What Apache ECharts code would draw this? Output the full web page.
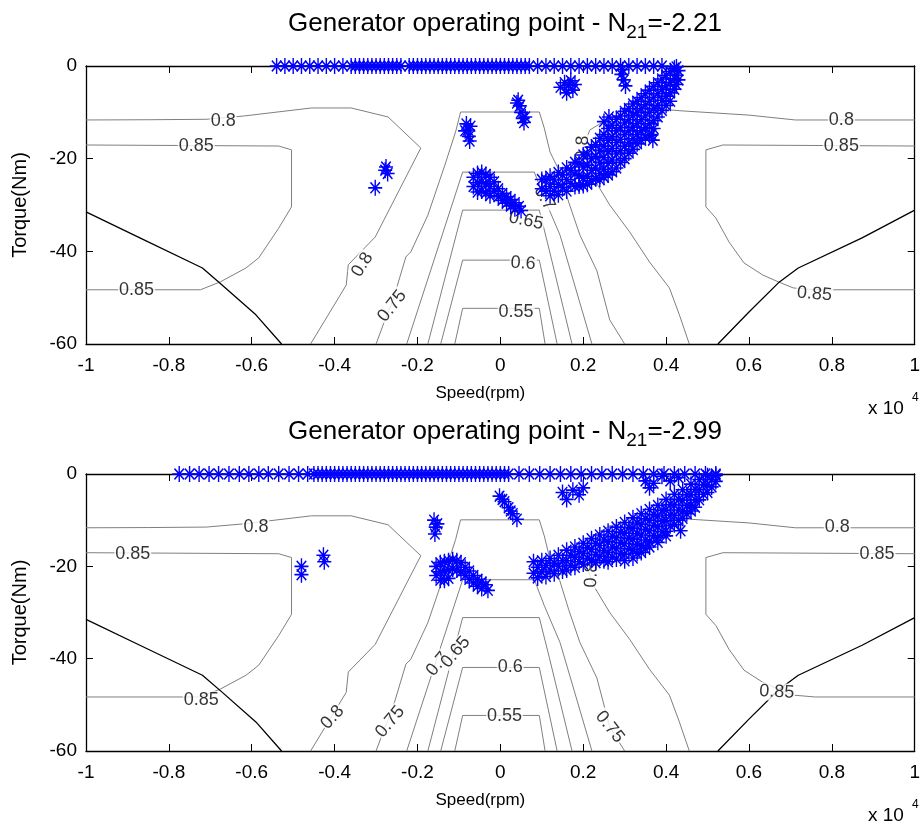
<!DOCTYPE html>
<html>
<head>
<meta charset="utf-8">
<script src="https://cdn.jsdelivr.net/npm/echarts@6/dist/echarts.min.js"></script>
<style>
  html, body { margin: 0; padding: 0; background: #fff; }
  #chart { width: 923px; height: 827px; }
</style>
</head>
<body>
<div id="chart"></div>
<script>
// Speed in units of 10^4 rpm, torque in Nm
const speedTicks = [-1, -0.8, -0.6, -0.4, -0.2, 0, 0.2, 0.4, 0.6, 0.8, 1];
const torqueTicks = [-60, -40, -20, 0];
const panelTitles = [
  ['Generator operating point - N', '21', '=-2.21'],
  ['Generator operating point - N', '21', '=-2.99']
];

// Efficiency map contours (same map under both operating sets)
const eff055 = [[-0.110,-60],[-0.091,-52.3],[0.094,-52.3],[0.108,-60]];
const eff060 = [[-0.144,-60],[-0.091,-41.9],[0.094,-41.9],[0.137,-60]];
const eff065 = [[-0.175,-60],[-0.091,-31.1],[0.094,-31.1],[0.118,-39.7],[0.173,-60]];
const eff070 = [[-0.226,-60],[-0.091,-22.9],[0.082,-22.9],[0.106,-28.5],[0.144,-36.5],[0.221,-60]];
const eff075 = [[-0.300,-60],[-0.283,-55.9],[-0.259,-50.5],[-0.228,-41.2],[-0.216,-40.1],[-0.175,-32.2],
  [-0.134,-21.4],[-0.108,-14.2],[-0.096,-9.93],[0.094,-9.93],[0.106,-13.4],[0.120,-18.6],[0.141,-22.4],
  [0.165,-29.4],[0.192,-36.5],[0.233,-44.2],[0.264,-54.8],[0.300,-60]];
const eff080Left = [[-1,-11.65],[-0.85,-11.6],[-0.71,-11.5],[-0.62,-10.8],[-0.456,-9.06],[-0.36,-9.06],
  [-0.271,-11.0],[-0.192,-17.7],[-0.302,-36.9],[-0.367,-42.9],[-0.372,-47.3],[-0.458,-60]];
const eff080Right = [[1,-11.65],[0.712,-11.65],[0.6,-10.6],[0.441,-9.7],[0.384,-9.3],[0.264,-11.2],
  [0.216,-13.8],[0.2,-17.5],[0.213,-21.2],[0.225,-24.2],[0.264,-30.0],[0.312,-35.8],[0.36,-42.3],
  [0.408,-47.9],[0.432,-53.7],[0.456,-60]];
const eff085Left = [[-1,-17.05],[-0.535,-17.27],[-0.504,-18.1],[-0.504,-30.4],[-0.535,-35.0],[-0.583,-41.4],
  [-0.614,-43.6],[-0.676,-46.6],[-0.724,-48.3],[-1,-48.3]];
const eff085Right = [[1,-17.27],[0.537,-17.05],[0.496,-18.1],[0.496,-30.4],[0.52,-32.8],[0.552,-38.0],
  [0.588,-42.5],[0.633,-45.1],[0.671,-46.6],[0.707,-47.9],[0.76,-48.3],[1,-48.3]];
// torque limit envelope
const limitLeft = [[-1,-31.5],[-0.87,-37.1],[-0.719,-43.6],[-0.671,-47.3],[-0.59,-53.7],[-0.528,-60]];
const limitRight = [[1,-31.1],[0.873,-37.1],[0.719,-43.6],[0.671,-46.8],[0.6,-53.1],[0.525,-60]];

// contour label anchors: [speed, torque, level, angle]
const labelsA = [
  [-0.669,-11.9,'0.8',0],[-0.734,-17.2,'0.85',0],[-0.878,-48.3,'0.85',0],
  [-0.333,-42.9,'0.8',58],[-0.261,-51.8,'0.75',52],[0.062,-33.4,'0.65',-12],
  [0.055,-42.6,'0.6',-4],[0.038,-53.0,'0.55',0],[0.106,-28.5,'0.7',-60],
  [0.199,-17.7,'0.8',88],[0.823,-11.65,'0.8',0],[0.823,-17.3,'0.85',0],[0.758,-49.2,'0.85',-5]
];
const labelsB = [
  [-0.590,-11.4,'0.8',0],[-0.887,-17.3,'0.85',0],[-0.722,-49.0,'0.85',0],
  [-0.405,-52.7,'0.8',48],[-0.266,-53.7,'0.75',50],[-0.151,-41.2,'0.7',50],
  [-0.108,-38.6,'0.65',50],[0.024,-41.8,'0.6',0],[0.010,-52.5,'0.55',0],
  [0.264,-54.8,'0.75',-52],[0.22,-21.9,'0.8',88],[0.813,-11.4,'0.8',0],
  [0.909,-17.3,'0.85',0],[0.667,-47.2,'0.85',-3]
];

// Operating points, N21 = -2.21
const idleSpeedsA = [-0.54,-0.52,-0.50,-0.48,-0.46,-0.44,-0.42,-0.40,-0.38,-0.36,-0.35,-0.34,-0.33,-0.32,
  -0.31,-0.30,-0.29,-0.28,-0.27,-0.26,-0.25,-0.24,-0.22,-0.21,-0.20,-0.19,-0.18,-0.17,-0.16,-0.15,-0.14,
  -0.13,-0.12,-0.11,-0.10,-0.09,-0.08,-0.07,-0.06,-0.05,-0.04,-0.03,-0.02,-0.01,0.00,0.01,0.02,0.03,0.04,
  0.05,0.06,0.07,0.09,0.11,0.13,0.15,0.17,0.19,0.21,0.23,0.25,0.27,0.29,0.31,0.33,0.35,0.37,0.39];
const loadPointsA = [
  [-0.302,-26.3],[-0.276,-21.8],[-0.272,-23.2],[-0.278,-22.5],
  [-0.082,-12.5],[-0.078,-13.8],[-0.076,-15.2],[-0.074,-16.2],[-0.085,-14.0],[-0.072,-13.0],
  [0.043,-7.4],[0.047,-8.6],[0.05,-10.0],[0.054,-11.3],[0.057,-12.2],[0.04,-8.0],[0.06,-11.0],
  [0.145,-4.6],[0.155,-3.6],[0.165,-4.2],[0.175,-5.2],[0.16,-5.8],[0.18,-4.0],[0.17,-3.2],
  [0.292,-1.8],[0.298,-3.0],[0.302,-4.3],[0.295,-0.8],
  // blob near zero speed
  [-0.065,-24.0],[-0.065,-26.0],[-0.055,-23.2],[-0.055,-25.2],[-0.055,-27.2],[-0.045,-23.0],[-0.045,-25.0],
  [-0.045,-27.0],[-0.035,-23.4],[-0.035,-25.4],[-0.035,-27.4],[-0.025,-24.0],[-0.025,-26.0],[-0.025,-28.0],
  [-0.015,-25.0],[-0.015,-27.0],[-0.005,-26.5],[-0.005,-28.2],[0.005,-27.5],[0.005,-29.0],[0.015,-28.2],
  [0.015,-29.6],[0.025,-28.8],[0.025,-30.2],[0.035,-29.5],[0.035,-30.8],[0.045,-30.3],[0.05,-31.2],
  // main band
  [0.10,-24.5],[0.10,-26.5],[0.12,-23.8],[0.12,-26.0],[0.12,-28.0],[0.14,-23.0],[0.14,-25.5],[0.14,-27.8],
  [0.16,-22.0],[0.16,-24.5],[0.16,-27.0],[0.18,-20.8],[0.18,-23.3],[0.18,-26.0],
  [0.20,-19.2],[0.20,-21.8],[0.20,-24.2],[0.20,-25.8],[0.22,-17.5],[0.22,-20.0],[0.22,-22.5],[0.22,-24.8],
  [0.24,-15.6],[0.24,-18.2],[0.24,-20.8],[0.24,-23.2],[0.24,-24.5],
  [0.26,-13.5],[0.26,-16.0],[0.26,-18.5],[0.26,-21.0],[0.26,-23.5],
  [0.28,-11.5],[0.28,-14.0],[0.28,-16.5],[0.28,-19.0],[0.28,-22.0],
  [0.30,-9.8],[0.30,-12.3],[0.30,-14.8],[0.30,-17.3],[0.30,-20.0],
  [0.32,-8.2],[0.32,-10.7],[0.32,-13.2],[0.32,-15.7],[0.32,-18.0],
  [0.34,-6.8],[0.34,-9.2],[0.34,-11.6],[0.34,-14.0],[0.34,-16.0],
  [0.36,-5.2],[0.36,-7.6],[0.36,-10.0],[0.36,-12.5],[0.36,-15.0],
  [0.38,-3.6],[0.38,-6.0],[0.38,-8.5],[0.38,-11.0],[0.40,-2.0],[0.40,-4.3],[0.40,-6.5],[0.40,-8.5],
  [0.42,-0.5],[0.42,-2.7],[0.42,-5.0],[0.43,-1.0],[0.43,-3.0],
  [0.11,-24.5],[0.11,-27.0],[0.13,-24.6],[0.13,-27.0],[0.15,-23.5],[0.15,-26.2],[0.17,-22.5],[0.17,-25.3],
  [0.19,-21.0],[0.19,-23.6],[0.19,-25.9],[0.21,-19.0],[0.21,-21.4],[0.21,-23.8],[0.21,-25.5],
  [0.23,-17.0],[0.23,-19.5],[0.23,-22.0],[0.23,-24.3],[0.25,-14.8],[0.25,-17.3],[0.25,-19.8],[0.25,-22.3],[0.25,-24.0],
  [0.27,-12.8],[0.27,-15.3],[0.27,-17.8],[0.27,-20.3],[0.27,-22.8],
  [0.29,-10.8],[0.29,-13.3],[0.29,-15.8],[0.29,-18.3],[0.29,-20.8],
  [0.31,-9.2],[0.31,-11.6],[0.31,-14.0],[0.31,-16.5],[0.31,-18.8],
  [0.33,-7.6],[0.33,-10.0],[0.33,-12.4],[0.33,-14.8],[0.33,-16.8],
  [0.35,-6.0],[0.35,-8.4],[0.35,-10.8],[0.35,-13.3],[0.35,-15.4],
  [0.37,-4.4],[0.37,-6.8],[0.37,-9.2],[0.37,-11.8],[0.37,-13.5],
  [0.39,-2.8],[0.39,-5.1],[0.39,-7.4],[0.39,-9.6],[0.41,-1.2],[0.41,-3.5],[0.41,-5.8],[0.41,-7.6],
  [0.425,-0.2],[0.425,-2.0],[0.425,-4.0],
  [0.25,-12.0],[0.262,-11.0],[0.365,-14.8],[0.368,-16.0]
];

// Operating points, N21 = -2.99
const idleSpeedsB = [-0.775,-0.75,-0.727,-0.703,-0.68,-0.655,-0.63,-0.607,-0.583,-0.56,-0.535,-0.51,-0.487,
  -0.465,-0.45,-0.44,-0.43,-0.42,-0.41,-0.40,-0.39,-0.38,-0.37,-0.36,-0.35,-0.34,-0.33,-0.32,-0.31,-0.30,
  -0.29,-0.28,-0.27,-0.26,-0.25,-0.24,-0.23,-0.22,-0.21,-0.20,-0.19,-0.18,-0.17,-0.16,-0.15,-0.14,-0.13,
  -0.12,-0.11,-0.10,-0.09,-0.08,-0.07,-0.06,-0.05,-0.04,-0.03,-0.02,-0.01,0.0,0.01,0.02,0.045,0.07,0.095,
  0.12,0.145,0.17,0.195,0.22,0.245,0.27,0.295,0.32,0.345,0.37,0.395,0.42,0.445,0.47,0.495,0.52];
const loadPointsB = [
  [-0.48,-20.0],[-0.48,-21.8],[-0.427,-17.6],[-0.425,-19.0],
  [-0.16,-10.0],[-0.156,-11.5],[-0.158,-13.0],[-0.152,-10.8],
  [-0.002,-4.8],[0.01,-6.0],[0.02,-7.3],[0.03,-8.6],[0.04,-9.8],[0.005,-5.5],[0.025,-8.0],
  [0.15,-4.0],[0.16,-5.5],[0.175,-3.5],[0.19,-4.5],[0.2,-3.0],
  [0.35,-1.5],[0.36,-3.0],[0.37,-2.0],[0.39,-0.5],[0.41,-1.5],[0.43,-0.8],
  // blob near zero speed
  [-0.155,-20.0],[-0.155,-22.0],[-0.145,-19.2],[-0.145,-21.2],[-0.145,-23.0],[-0.135,-19.0],[-0.135,-21.0],
  [-0.135,-23.0],[-0.125,-18.8],[-0.125,-20.8],[-0.125,-22.6],[-0.115,-18.6],[-0.115,-20.6],[-0.105,-18.8],
  [-0.105,-20.8],[-0.095,-19.2],[-0.095,-21.2],[-0.085,-20.2],[-0.085,-22.0],[-0.075,-21.0],[-0.075,-22.8],
  [-0.065,-22.0],[-0.065,-23.6],[-0.055,-22.8],[-0.055,-24.3],[-0.045,-23.4],[-0.045,-24.8],[-0.035,-24.0],
  [-0.03,-25.2],
  // main band
  [0.08,-19.0],[0.08,-21.5],[0.09,-20.2],[0.09,-22.5],[0.10,-18.8],[0.10,-21.2],[0.11,-19.8],[0.11,-22.2],
  [0.12,-18.3],[0.12,-20.8],[0.13,-19.3],[0.13,-21.6],[0.14,-17.6],[0.14,-20.0],[0.15,-18.8],[0.15,-21.0],
  [0.16,-16.5],[0.16,-18.8],[0.16,-20.8],[0.17,-17.6],[0.17,-19.8],[0.18,-15.8],[0.18,-18.0],[0.18,-20.2],
  [0.19,-16.8],[0.19,-19.0],[0.20,-15.0],[0.20,-17.2],[0.20,-19.5],[0.21,-16.0],[0.21,-18.3],
  [0.22,-14.0],[0.22,-16.3],[0.22,-18.6],[0.23,-15.0],[0.23,-17.5],[0.23,-19.2],
  [0.24,-13.2],[0.24,-15.5],[0.24,-17.8],[0.25,-14.3],[0.25,-16.6],[0.25,-18.8],
  [0.26,-12.4],[0.26,-14.7],[0.26,-17.0],[0.26,-19.0],[0.27,-13.5],[0.27,-15.8],[0.27,-18.0],
  [0.28,-11.5],[0.28,-13.8],[0.28,-16.1],[0.28,-18.4],[0.29,-12.6],[0.29,-14.9],[0.29,-17.2],
  [0.30,-10.5],[0.30,-12.8],[0.30,-15.1],[0.30,-17.4],[0.30,-18.8],[0.31,-11.6],[0.31,-13.9],[0.31,-16.2],
  [0.32,-9.5],[0.32,-11.8],[0.32,-14.1],[0.32,-16.4],[0.32,-18.2],[0.33,-10.6],[0.33,-12.9],[0.33,-15.2],[0.33,-17.2],
  [0.34,-8.6],[0.34,-10.9],[0.34,-13.2],[0.34,-15.5],[0.34,-17.0],[0.35,-9.7],[0.35,-12.0],[0.35,-14.3],[0.35,-16.2],
  [0.36,-7.7],[0.36,-10.0],[0.36,-12.3],[0.36,-14.6],[0.36,-15.8],[0.37,-8.8],[0.37,-11.1],[0.37,-13.4],
  [0.38,-6.8],[0.38,-9.1],[0.38,-11.4],[0.38,-13.7],[0.38,-14.8],[0.39,-7.9],[0.39,-10.2],[0.39,-12.5],
  [0.40,-5.5],[0.40,-7.8],[0.40,-10.1],[0.40,-12.4],[0.40,-13.4],[0.41,-6.6],[0.41,-8.9],[0.41,-11.2],
  [0.42,-4.4],[0.42,-6.7],[0.42,-9.0],[0.42,-11.0],[0.43,-5.5],[0.43,-7.8],[0.43,-10.0],[0.435,-12.3],
  [0.44,-3.4],[0.44,-5.7],[0.44,-8.0],[0.44,-9.6],[0.45,-4.5],[0.45,-6.8],[0.45,-8.6],
  [0.46,-2.2],[0.46,-4.5],[0.46,-6.8],[0.46,-8.0],[0.47,-3.3],[0.47,-5.6],[0.47,-7.2],
  [0.48,-1.2],[0.48,-3.4],[0.48,-5.6],[0.49,-2.3],[0.49,-4.4],[0.50,-0.4],[0.50,-2.4],[0.50,-4.0],
  [0.51,-1.2],[0.51,-2.8],[0.52,-0.3],[0.52,-1.6]
];

const FONT = "'Liberation Sans', Arial, sans-serif";
const STAR = 'path://M5 0L5 10M0 5L10 5M1.6 1.6L8.4 8.4M1.6 8.4L8.4 1.6';
const contourSet = [eff055, eff060, eff065, eff070, eff075, eff080Left, eff080Right, eff085Left, eff085Right];
const limitSet = [limitLeft, limitRight];
const panels = [
  { idle: idleSpeedsA, load: loadPointsA, labels: labelsA, top: 66, height: 278 },
  { idle: idleSpeedsB, load: loadPointsB, labels: labelsB, top: 474, height: 277 }
];

const grids = [], xAxes = [], yAxes = [], series = [], titles = [], graphics = [];
const xMin = speedTicks[0], xMax = speedTicks[speedTicks.length - 1];
const yMin = torqueTicks[0], yMax = torqueTicks[torqueTicks.length - 1];

panels.forEach((p, i) => {
  grids.push({ left: 86, width: 834, top: p.top, height: p.height });
  const baseAxis = {
    gridIndex: i, axisLine: { onZero: false, lineStyle: { color: '#000', width: 1.3 } },
    axisTick: { inside: true, length: 7, lineStyle: { color: '#000' } },
    splitLine: { show: false }
  };
  xAxes.push(Object.assign({}, baseAxis, {
    type: 'value', position: 'bottom', min: xMin, max: xMax, interval: speedTicks[1] - speedTicks[0],
    name: 'Speed(rpm)', nameLocation: 'middle', nameGap: 41,
    nameTextStyle: { fontFamily: FONT, fontSize: 17, color: '#000', padding: [0, 40, 0, 0] },
    axisLabel: { margin: 12, fontFamily: FONT, fontSize: 19, color: '#000',
      formatter: v => String(Math.round(v * 10) / 10) }
  }));
  xAxes.push(Object.assign({}, baseAxis, {
    type: 'value', position: 'top', min: xMin, max: xMax, interval: speedTicks[1] - speedTicks[0],
    axisLabel: { show: false }
  }));
  yAxes.push(Object.assign({}, baseAxis, {
    type: 'value', position: 'left', min: yMin, max: yMax, interval: torqueTicks[1] - torqueTicks[0],
    name: 'Torque(Nm)', nameLocation: 'middle', nameGap: 56, nameRotate: 90,
    nameTextStyle: { fontFamily: FONT, fontSize: 20, color: '#000' },
    axisLabel: { margin: 9, fontFamily: FONT, fontSize: 19, color: '#000' }
  }));
  yAxes.push(Object.assign({}, baseAxis, {
    type: 'value', position: 'right', min: yMin, max: yMax, interval: torqueTicks[1] - torqueTicks[0],
    axisLabel: { show: false }
  }));
  const xi = i * 2, yi = i * 2;

  contourSet.forEach(c => series.push({
    type: 'line', xAxisIndex: xi, yAxisIndex: yi, data: c, showSymbol: false, symbol: 'none',
    lineStyle: { color: '#7f7f7f', width: 1 }, z: 2, silent: true
  }));
  limitSet.forEach(c => series.push({
    type: 'line', xAxisIndex: xi, yAxisIndex: yi, data: c, showSymbol: false, symbol: 'none',
    lineStyle: { color: '#000', width: 1.3 }, z: 2, silent: true
  }));
  series.push({
    type: 'scatter', xAxisIndex: xi, yAxisIndex: yi, symbolSize: 0, z: 3, silent: true,
    data: p.labels.map(l => ({ value: [l[0], l[1]], name: l[2], label: { rotate: l[3] } })),
    label: { show: true, position: 'inside', formatter: '{b}', fontFamily: FONT, fontSize: 18,
      color: '#000', backgroundColor: '#fff', padding: [0, 1] }
  });
  const pts = p.idle.map(s => [s, 0]).concat(p.load);
  series.push({
    type: 'scatter', xAxisIndex: xi, yAxisIndex: yi, data: pts, clip: false, z: 4, silent: true,
    symbol: STAR, symbolSize: [14, 16], symbolKeepAspect: false,
    itemStyle: { color: '#0000ff', borderColor: '#0000ff', borderWidth: 1.5, opacity: 1 }
  });

  titles.push({
    text: '{m|' + panelTitles[i][0] + '}{s|' + panelTitles[i][1] + '}{m|' + panelTitles[i][2] + '}',
    left: 500, textAlign: 'center', top: p.top - 62,
    textStyle: { rich: {
      m: { fontFamily: FONT, fontSize: 26, fontWeight: 'normal', color: '#000', lineHeight: 30 },
      s: { fontFamily: FONT, fontSize: 19, fontWeight: 'normal', color: '#000', lineHeight: 19, padding: [17, 0, 0, 0] }
    } }
  });
  graphics.push({ type: 'text', left: 868, top: p.top + p.height + 55,
    style: { text: 'x 10', font: '19px ' + FONT, fill: '#000' } });
  graphics.push({ type: 'text', left: 912, top: p.top + p.height + 48,
    style: { text: '4', font: '12px ' + FONT, fill: '#000' } });
});

const chart = echarts.init(document.getElementById('chart'), null, { renderer: 'canvas' });
chart.setOption({
  animation: false,
  backgroundColor: '#fff',
  title: titles,
  grid: grids,
  xAxis: xAxes,
  yAxis: yAxes,
  series: series,
  graphic: graphics
});
</script>
</body>
</html>
